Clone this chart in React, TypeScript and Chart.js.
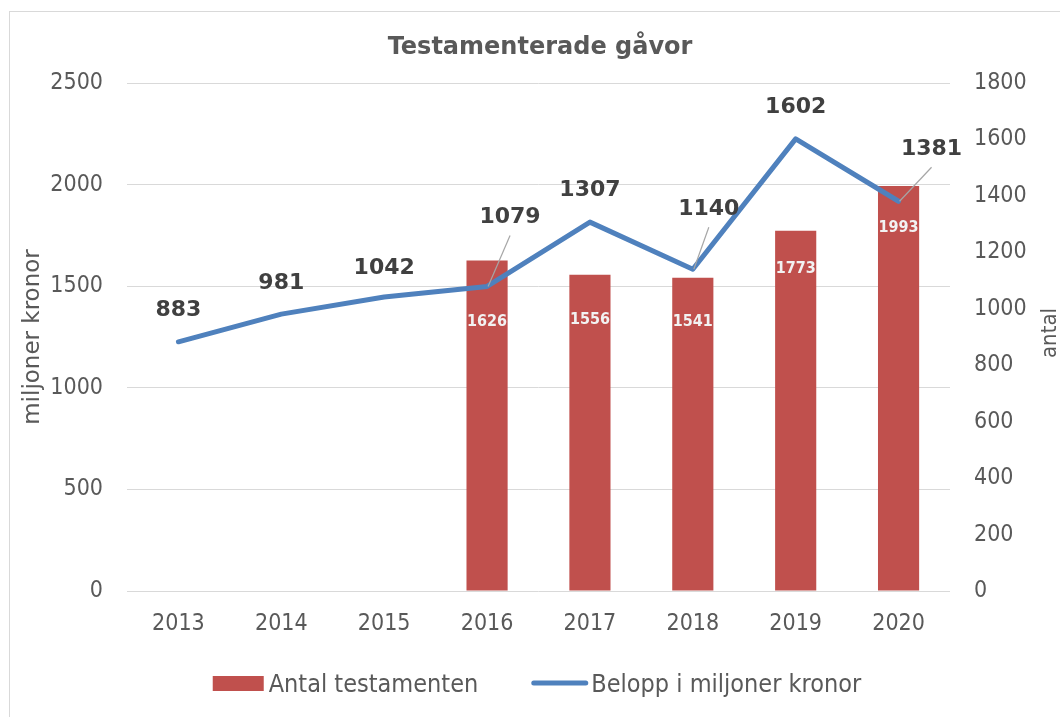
import React, { useEffect, useRef } from "react";
import { Chart, registerables } from "chart.js";

Chart.register(...registerables);

// ---- data ----
const years = ["2013", "2014", "2015", "2016", "2017", "2018", "2019", "2020"];
const antalTestamenten: (number | null)[] = [null, null, null, 1626, 1556, 1541, 1773, 1993];
const beloppMiljoner = [883, 981, 1042, 1079, 1307, 1140, 1602, 1381];
const leftTickValues = [0, 500, 1000, 1500, 2000, 2500];
const rightTickValues = [0, 200, 400, 600, 800, 1000, 1200, 1400, 1600, 1800];

const chartTitle = "Testamenterade gåvor";
const leftAxisTitle = "miljoner kronor";
const rightAxisTitle = "antal";
const barLabel = "Antal testamenten";
const lineLabel = "Belopp i miljoner kronor";

// ---- styling ----
const FONT = '"DejaVu Sans Condensed", "DejaVu Sans", sans-serif';
const WIDE_FONT = '"DejaVu Sans", sans-serif';
const TEXT = "#595959";
const BAR_COLOR = "#C0504D";
const LINE_COLOR = "#4F81BD";
const GRID = "#D9D9D9";

// label placement (pixels relative to mark)
const lineLabelOffsets: [number, number][] = [
  [0, -32], [0, -31], [0, -29], [23, -69], [0, -32], [16, -60], [0, -32], [33, -52],
];
const barLabelOffsets = [0, 0, 0, 61, 45, 44, 38, 42];

const decorPlugin = {
  id: "decor",
  beforeDraw(chart: any) {
    const ctx = chart.ctx;
    ctx.save();
    ctx.fillStyle = "#ffffff";
    ctx.fillRect(0, 0, chart.width, chart.height);
    ctx.strokeStyle = GRID;
    ctx.lineWidth = 1;
    ctx.strokeRect(9.5, 11.5, chart.width + 20, chart.height + 20);
    ctx.restore();
  },
  afterDatasetsDraw(chart: any) {
    const ctx = chart.ctx;
    const area = chart.chartArea;
    ctx.save();

    // bar value labels
    const barMeta = chart.getDatasetMeta(0);
    ctx.font = `bold 16px ${FONT}`;
    ctx.fillStyle = "#F2F2F2";
    ctx.textAlign = "center";
    ctx.textBaseline = "middle";
    barMeta.data.forEach((el: any, i: number) => {
      const v = antalTestamenten[i];
      if (v == null) return;
      ctx.fillText(String(v), el.x, el.y + barLabelOffsets[i]);
    });

    // line value labels
    const lineMeta = chart.getDatasetMeta(1);
    lineMeta.data.forEach((el: any, i: number) => {
      const [dx, dy] = lineLabelOffsets[i];
      const lx = el.x + dx;
      const ly = el.y + dy;
      if (dx !== 0) {
        ctx.strokeStyle = "#A6A6A6";
        ctx.lineWidth = 1.2;
        ctx.beginPath();
        ctx.moveTo(lx, ly + 18);
        ctx.lineTo(el.x + 1, el.y);
        ctx.stroke();
      }
      ctx.font = `bold 22px ${WIDE_FONT}`;
      ctx.fillStyle = "#404040";
      ctx.textAlign = "center";
      ctx.textBaseline = "middle";
      ctx.fillText(String(beloppMiljoner[i]), lx, ly);
    });

    // chart title
    ctx.font = `bold 24px ${WIDE_FONT}`;
    ctx.fillStyle = TEXT;
    ctx.textAlign = "center";
    ctx.textBaseline = "middle";
    ctx.fillText(chartTitle, 540, 48);

    // axis titles
    const midY = (area.top + area.bottom) / 2;
    ctx.fillStyle = TEXT;
    ctx.save();
    ctx.font = `23px ${WIDE_FONT}`;
    ctx.translate(33, midY);
    ctx.rotate(-Math.PI / 2);
    ctx.fillText(leftAxisTitle, 0, 0);
    ctx.restore();
    ctx.save();
    ctx.font = `22px ${FONT}`;
    ctx.translate(chart.width - 10, midY - 4);
    ctx.rotate(-Math.PI / 2);
    ctx.fillText(rightAxisTitle, 0, 0);
    ctx.restore();

    // legend
    ctx.font = `25px ${FONT}`;
    const w1 = ctx.measureText(barLabel).width;
    const w2 = ctx.measureText(lineLabel).width;
    const boxW = 51, gapA = 5, gapB = 53, lineW = 57, gapC = 3;
    const total = boxW + gapA + w1 + gapB + lineW + gapC + w2;
    const ly = 684;
    let x = 537 - total / 2;
    ctx.fillStyle = BAR_COLOR;
    ctx.fillRect(x, ly - 8, boxW, 15);
    x += boxW + gapA;
    ctx.fillStyle = TEXT;
    ctx.textAlign = "left";
    ctx.fillText(barLabel, x, ly + 1);
    x += w1 + gapB;
    ctx.strokeStyle = LINE_COLOR;
    ctx.lineWidth = 5;
    ctx.lineCap = "round";
    ctx.beginPath();
    ctx.moveTo(x + 2.5, ly - 1);
    ctx.lineTo(x + lineW - 2.5, ly - 1);
    ctx.stroke();
    x += lineW + gapC;
    ctx.fillText(lineLabel, x, ly + 1);

    ctx.restore();
  },
};

const plainTick = (v: any) => String(v);

export default function App() {
  const ref = useRef<HTMLCanvasElement | null>(null);

  useEffect(() => {
    if (!ref.current) return;
    const chart = new Chart(ref.current, {
      type: "bar",
      data: {
        labels: years,
        datasets: [
          {
            type: "bar",
            label: barLabel,
            data: antalTestamenten,
            backgroundColor: BAR_COLOR,
            borderWidth: 0,
            yAxisID: "y",
            barPercentage: 0.4,
            categoryPercentage: 1,
            order: 2,
          },
          {
            type: "line",
            label: lineLabel,
            data: beloppMiljoner,
            borderColor: LINE_COLOR,
            backgroundColor: LINE_COLOR,
            borderWidth: 5,
            pointRadius: 0,
            tension: 0,
            borderCapStyle: "round",
            borderJoinStyle: "round",
            yAxisID: "y1",
            order: 1,
          } as any,
        ],
      },
      options: {
        responsive: false,
        animation: false,
        layout: { padding: { top: 83, left: 0, right: 0, bottom: 0 } },
        plugins: {
          legend: { display: false },
          title: { display: false },
          tooltip: { enabled: false },
        },
        scales: {
          x: {
            type: "category",
            offset: true,
            grid: { display: false, drawTicks: false },
            border: { display: false },
            ticks: {
              color: TEXT,
              font: { family: FONT, size: 23 },
              padding: 19,
              maxRotation: 0,
            },
            afterFit: (s: any) => {
              s.height = 126;
            },
          },
          y: {
            position: "left",
            min: 0,
            max: 2500,
            afterBuildTicks: (s: any) => {
              s.ticks = leftTickValues.map((v) => ({ value: v }));
            },
            grid: { color: GRID, lineWidth: 1, drawTicks: false },
            border: { display: false },
            ticks: {
              color: TEXT,
              font: { family: FONT, size: 23 },
              padding: 24,
              callback: plainTick,
            },
            afterFit: (s: any) => {
              s.width = 127;
            },
          },
          y1: {
            position: "right",
            min: 0,
            max: 1800,
            afterBuildTicks: (s: any) => {
              s.ticks = rightTickValues.map((v) => ({ value: v }));
            },
            grid: { display: false, drawTicks: false },
            border: { display: false },
            ticks: {
              color: TEXT,
              font: { family: FONT, size: 23 },
              padding: 24,
              callback: plainTick,
            },
            afterFit: (s: any) => {
              s.width = 110;
            },
          },
        },
      },
      plugins: [decorPlugin],
    });
    return () => chart.destroy();
  }, []);

  return (
    <div style={{ position: "absolute", left: 0, top: 0, width: 1060, height: 717 }}>
      <canvas ref={ref} width={1060} height={717} style={{ display: "block" }} />
    </div>
  );
}
